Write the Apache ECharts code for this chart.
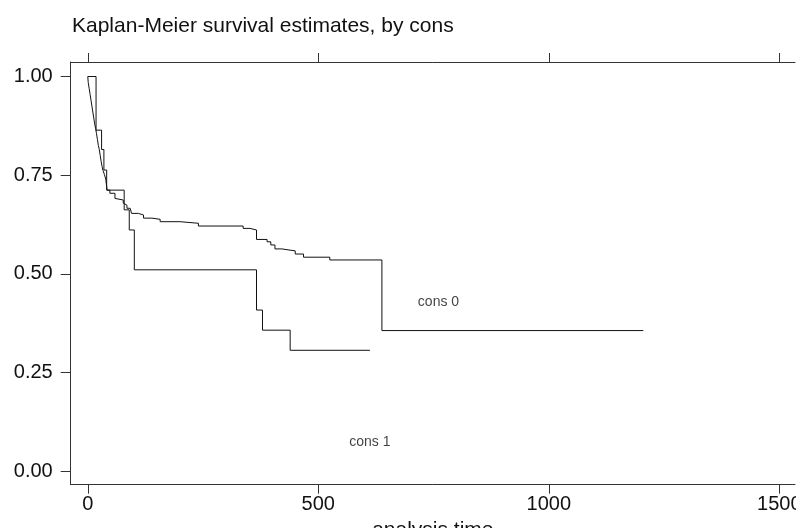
<!DOCTYPE html>
<html>
<head>
<meta charset="utf-8">
<script src="https://cdn.jsdelivr.net/npm/echarts@6/dist/echarts.min.js"></script>
<style>
html,body{margin:0;padding:0;background:#fff;}
#chart{width:796px;height:528px;}
</style>
</head>
<body>
<div id="chart"></div>
<script>
// ---- data ----
const titleText = 'Kaplan-Meier survival estimates, by cons';
const xAxisTitle = 'analysis time';
const xTicks = [0, 500, 1000, 1500];
const yTicks = [0, 0.25, 0.5, 0.75, 1.0];

const cons0Time = [0, 1, 3, 5, 7, 9, 11, 13, 15, 17, 19, 21, 23, 25, 27, 29, 31, 33, 36, 39, 42, 48, 59, 63, 77, 81, 85, 92, 95, 110, 121, 139, 157, 200, 240, 337, 352, 366, 389, 397, 406, 421, 450, 468, 525, 638, 1205];
const cons0Surv = [1.0, 0.985, 0.97, 0.955, 0.94, 0.925, 0.91, 0.895, 0.88, 0.868, 0.855, 0.84, 0.825, 0.815, 0.80, 0.785, 0.772, 0.762, 0.752, 0.74, 0.712, 0.704, 0.691, 0.687, 0.679, 0.674, 0.666, 0.662, 0.653, 0.649, 0.641, 0.638, 0.632, 0.628, 0.621, 0.615, 0.611, 0.587, 0.581, 0.573, 0.563, 0.558, 0.550, 0.542, 0.535, 0.356, 0.356];

const cons1Time = [0, 18, 30, 35, 41, 79, 90, 101, 366, 379, 439, 612];
const cons1Surv = [1.0, 0.864, 0.815, 0.763, 0.712, 0.662, 0.611, 0.51, 0.408, 0.357, 0.306, 0.306];

const groupLabels = ['cons 0', 'cons 1'];
const labelTime = [716, 567];
const labelSurv = [0.429, 0.074];

// ---- chart ----
const pairs = (xs, ys) => xs.map((x, i) => [x, ys[i]]);
const font = 'Liberation Sans, Arial, Helvetica, sans-serif';
const axisColor = '#333';

const chart = echarts.init(document.getElementById('chart'), null, {renderer: 'canvas'});
chart.setOption({
  animation: false,
  backgroundColor: '#fff',
  title: {
    text: titleText,
    left: 72,
    top: 16,
    padding: 0,
    textStyle: {fontFamily: font, fontSize: 21, fontWeight: 'normal', color: '#111', lineHeight: 21}
  },
  grid: {left: 70.7, right: 1, top: 62, bottom: 43.3, containLabel: false, outerBoundsMode: 'none'},
  xAxis: [{
    type: 'value', position: 'bottom', min: -37, max: 1534,
    name: xAxisTitle, nameLocation: 'middle', nameGap: 25,
    nameTextStyle: {fontFamily: font, fontSize: 21, color: '#111'},
    axisLine: {show: true, onZero: false, lineStyle: {color: axisColor, width: 1}},
    axisTick: {show: true, length: 9, customValues: xTicks, lineStyle: {color: axisColor}},
    axisLabel: {show: true, margin: 10, customValues: xTicks, fontFamily: font, fontSize: 20, color: '#111',
      formatter: v => String(v)},
    splitLine: {show: false}
  }, {
    type: 'value', position: 'top', min: -37, max: 1534,
    axisLine: {show: true, onZero: false, lineStyle: {color: axisColor, width: 1}},
    axisTick: {show: true, length: 9, customValues: xTicks, lineStyle: {color: axisColor}},
    axisLabel: {show: false},
    splitLine: {show: false}
  }],
  yAxis: [{
    type: 'value', position: 'left', min: -0.0347, max: 1.0368,
    axisLine: {show: true, onZero: false, lineStyle: {color: axisColor, width: 1}},
    axisTick: {show: true, length: 10, customValues: yTicks, lineStyle: {color: axisColor}},
    axisLabel: {show: true, margin: 18, customValues: yTicks, fontFamily: font, fontSize: 20, color: '#111',
      formatter: v => v.toFixed(2)},
    splitLine: {show: false}
  }],
  series: [{
    name: groupLabels[0], type: 'line', step: 'end', showSymbol: false, symbol: 'none',
    data: pairs(cons0Time, cons0Surv),
    lineStyle: {color: '#111', width: 1}
  }, {
    name: groupLabels[1], type: 'line', step: 'end', showSymbol: false, symbol: 'none',
    data: pairs(cons1Time, cons1Surv),
    lineStyle: {color: '#111', width: 1}
  }, {
    type: 'scatter', symbolSize: 0, silent: true,
    data: groupLabels.map((g, i) => ({value: [labelTime[i], labelSurv[i]], name: g})),
    label: {show: true, position: 'right', distance: 0, formatter: p => p.name,
      fontFamily: font, fontSize: 14, color: '#111'}
  }]
});
</script>
</body>
</html>
